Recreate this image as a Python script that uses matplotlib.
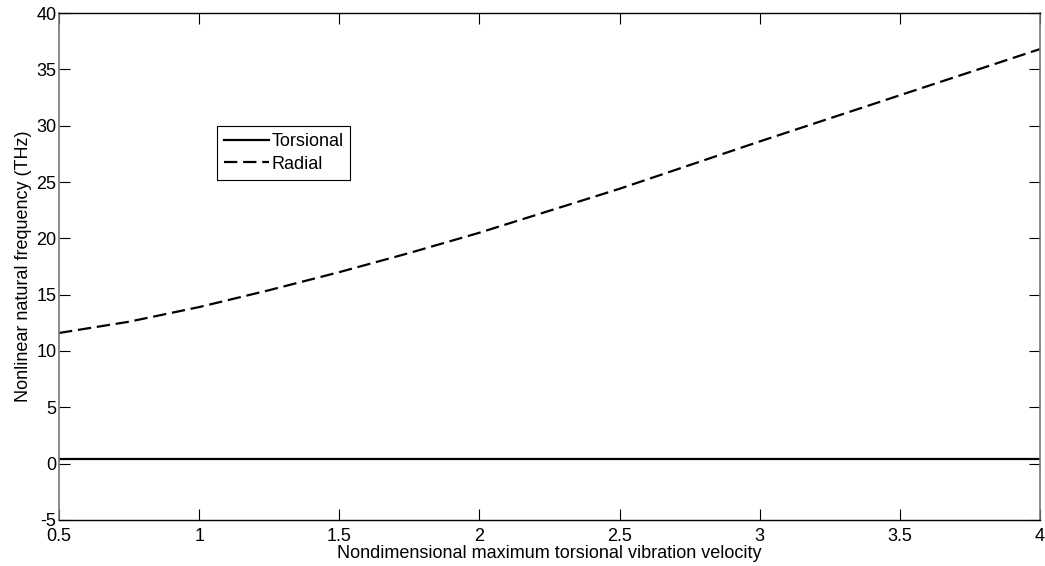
import matplotlib
matplotlib.use("Agg")
import matplotlib.pyplot as plt

# data
velocity = [0.5, 0.75, 1.0, 1.25, 1.5, 1.75, 2.0, 2.5, 3.0, 3.5, 4.0]
radial = [11.6, 12.6, 13.9, 15.4, 17.0, 18.7, 20.5, 24.4, 28.6, 32.7, 36.8]
torsional = [0.42] * len(velocity)

xticks = [0.5, 1, 1.5, 2, 2.5, 3, 3.5, 4]
xticklabels = ["0.5", "1", "1.5", "2", "2.5", "3", "3.5", "4"]
yticks = [-5, 0, 5, 10, 15, 20, 25, 30, 35, 40]

plt.rcParams["font.family"] = ["Liberation Sans", "DejaVu Sans"]
plt.rcParams["font.size"] = 13
plt.rcParams["axes.unicode_minus"] = False

fig = plt.figure(figsize=(10.45, 5.66), dpi=100)
ax = fig.add_axes([0.0565, 0.0813, 0.9387, 0.8957])

ax.plot(velocity, torsional, "k-", linewidth=1.6, label="Torsional")
ax.plot(velocity, radial, "k--", linewidth=1.6, dashes=(6, 2.6), label="Radial")

ax.set_xlim(0.5, 4)
ax.set_ylim(-5, 40)
ax.set_xticks(xticks)
ax.set_xticklabels(xticklabels)
ax.set_yticks(yticks)
ax.tick_params(direction="in", length=8, width=0.8, top=True, right=True)
ax.tick_params(axis="x", pad=6)
ax.tick_params(axis="y", pad=2)

for side in ["left", "right"]:
    ax.spines[side].set_color("#777777")
    ax.spines[side].set_linewidth(1.2)
for side in ["top", "bottom"]:
    ax.spines[side].set_linewidth(1.0)

ax.set_xlabel("Nondimensional maximum torsional vibration velocity", labelpad=0)
ax.set_ylabel("Nonlinear natural frequency (THz)", labelpad=3)

leg = ax.legend(loc="upper left", bbox_to_anchor=(0.161, 0.777), fancybox=False,
                edgecolor="black", framealpha=1, handlelength=2.5,
                handletextpad=0.1, borderpad=0.4, labelspacing=0.3,
                borderaxespad=0)
leg.get_frame().set_linewidth(0.8)

fig.savefig("out.png", dpi=100)
